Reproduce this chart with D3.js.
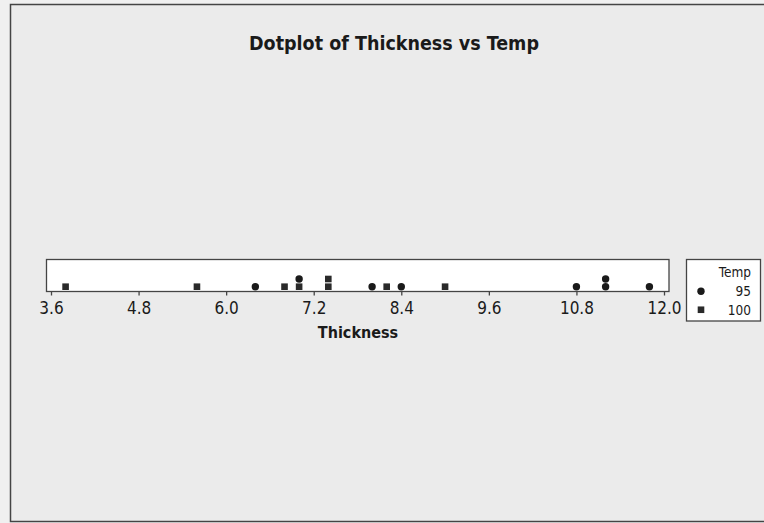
<!DOCTYPE html>
<html>
<head>
<meta charset="utf-8">
<script src="https://cdn.jsdelivr.net/npm/d3@7"></script>
<style>
  html, body { margin: 0; padding: 0; background: #f0f0f0; }
  svg { display: block; }
  text { fill: #1a1a1a; }
</style>
</head>
<body>
<svg id="chart"></svg>
<script>
'use strict';

// data
var temps = ["95", "100"];
var thickness95 = [6.4, 7.0, 8.0, 8.4, 10.8, 11.2, 11.2, 11.8];
var thickness100 = [3.8, 5.6, 6.8, 7.0, 7.4, 7.4, 8.2, 9.0];
var tickValues = [3.6, 4.8, 6.0, 7.2, 8.4, 9.6, 10.8, 12.0];

var width = 764,
    height = 523;

var font = "'DejaVu Sans Condensed', 'DejaVu Sans', sans-serif";

var svg = d3.select("#chart")
    .attr("width", width)
    .attr("height", height);

// outer frame
svg.append("rect")
    .attr("x", 10.5).attr("y", 4.5)
    .attr("width", 800).attr("height", 517)
    .attr("fill", "#ebebeb")
    .attr("stroke", "#444").attr("stroke-width", 1.5);

svg.append("text")
    .attr("x", 394).attr("y", 50)
    .attr("text-anchor", "middle")
    .attr("font-family", font)
    .attr("font-weight", "bold")
    .attr("font-size", 19.5)
    .text("Dotplot of Thickness vs Temp");

var x = d3.scaleLinear().domain([3.6, 12.0]).range([51, 664]);
// stack level -> y
var y = d3.scaleLinear().domain([0, 1]).range([286.7, 279]);

// data box
svg.append("rect")
    .attr("x", 46.5).attr("y", 259.5)
    .attr("width", 622.5).attr("height", 32)
    .attr("fill", "#fff")
    .attr("stroke", "#444").attr("stroke-width", 1.3);

var axis = svg.append("g")
    .attr("transform", "translate(0,291.5)")
    .call(d3.axisBottom(x).tickValues(tickValues).tickSize(4).tickSizeOuter(0)
      .tickFormat(d3.format(".1f")));
axis.select(".domain").remove();
axis.selectAll(".tick line").attr("stroke", "#444").attr("stroke-width", 1.3);
axis.selectAll(".tick text")
    .attr("y", 10)
    .attr("font-family", font)
    .attr("font-size", 17)
    .attr("fill", "#1a1a1a");

svg.append("text")
    .attr("x", 358).attr("y", 338)
    .attr("text-anchor", "middle")
    .attr("font-family", font)
    .attr("font-weight", "bold")
    .attr("font-size", 16)
    .text("Thickness");

// stack points: squares (100) first, then circles (95)
var points = [];
var counts = {};
[[temps[1], thickness100], [temps[0], thickness95]].forEach(function(g) {
  g[1].forEach(function(v) {
    var k = v.toFixed(1);
    counts[k] = (counts[k] || 0);
    points.push({ temp: g[0], value: v, level: counts[k] });
    counts[k]++;
  });
});

svg.selectAll(".dot95")
    .data(points.filter(function(d) { return d.temp === "95"; }))
  .enter().append("circle")
    .attr("class", "dot95")
    .attr("cx", function(d) { return x(d.value); })
    .attr("cy", function(d) { return y(d.level); })
    .attr("r", 3.7)
    .attr("fill", "#1a1a1a");

svg.selectAll(".dot100")
    .data(points.filter(function(d) { return d.temp === "100"; }))
  .enter().append("rect")
    .attr("class", "dot100")
    .attr("x", function(d) { return x(d.value) - 3.3; })
    .attr("y", function(d) { return y(d.level) - 3.3; })
    .attr("width", 6.6).attr("height", 6.6)
    .attr("fill", "#2a2a2a");

// legend
var legend = svg.append("g");
legend.append("rect")
    .attr("x", 686.5).attr("y", 259.5)
    .attr("width", 74).attr("height", 61.5)
    .attr("fill", "#fff")
    .attr("stroke", "#444").attr("stroke-width", 1.3);

legend.append("text")
    .attr("x", 751).attr("y", 277)
    .attr("text-anchor", "end")
    .attr("font-family", font)
    .attr("font-size", 13.5)
    .text("Temp");

var legY = d3.scaleBand().domain(temps).range([282, 319]);

legend.selectAll(".lab")
    .data(temps)
  .enter().append("text")
    .attr("class", "lab")
    .attr("x", 751)
    .attr("y", function(d) { return legY(d) + legY.bandwidth() / 2 + 5; })
    .attr("text-anchor", "end")
    .attr("font-family", font)
    .attr("font-size", 13.5)
    .text(function(d) { return d; });

legend.append("circle")
    .attr("cx", 701).attr("cy", legY("95") + legY.bandwidth() / 2)
    .attr("r", 3.7).attr("fill", "#1a1a1a");
legend.append("rect")
    .attr("x", 701 - 3.3).attr("y", legY("100") + legY.bandwidth() / 2 - 3.3)
    .attr("width", 6.6).attr("height", 6.6)
    .attr("fill", "#2a2a2a");
</script>
</body>
</html>
